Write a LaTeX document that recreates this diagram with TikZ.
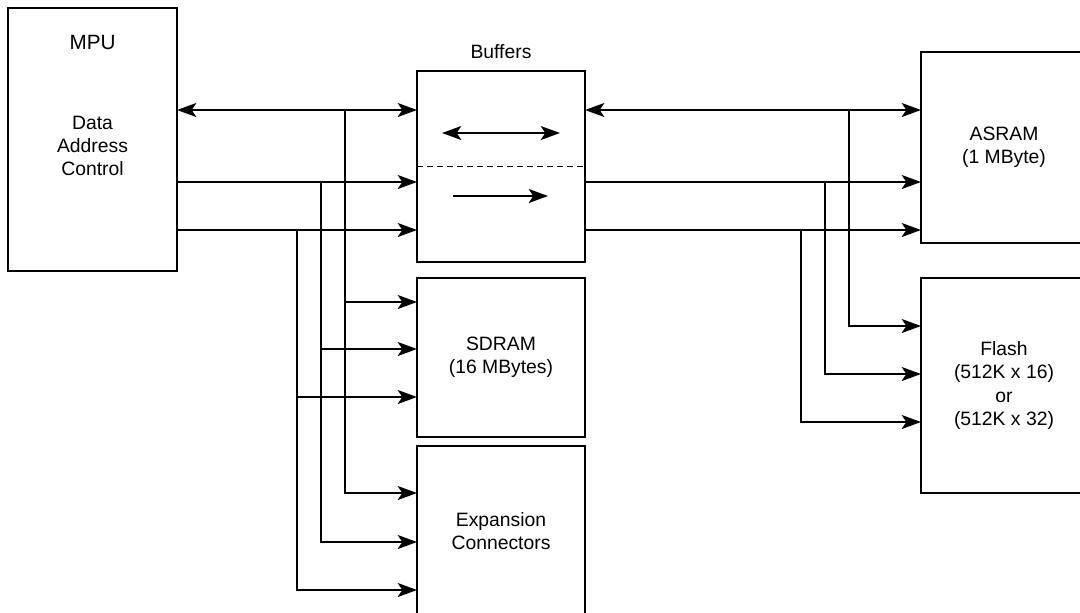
\documentclass[tikz,border=0pt]{standalone}
\usepackage{fontspec}
\setmainfont{Liberation Sans}
\usetikzlibrary{arrows.meta}

\tikzset{
  block/.style={draw,inner sep=0pt,outer sep=0pt,align=center},
  label/.style={inner sep=0pt,align=center},
}

\begin{document}
\begin{tikzpicture}[x=0.75pt,y=-0.75pt,line width=1.3pt,
    >={Stealth[length=14.5pt,width=10.5pt,inset=3.5pt]},
    font=\fontsize{14.5}{17.5}\selectfont]
  \useasboundingbox (0,0) rectangle (1080,612);
  % blocks
  \node[block,minimum width=126.75pt,minimum height=197.25pt] (mpu) at (92.5,139.5) {};
  \node[label,font=\fontsize{15.5}{18}\selectfont] (mpulbl) at (92.5,42) {MPU};
  \node[label] (mpusig) at (92.5,146) {Data\\Address\\Control};
  \node[block,minimum width=126pt,minimum height=143.25pt] (buf) at (501,166.5) {};
  \node[label] (buflbl) at (501,52) {Buffers};
  \node[block,minimum width=126pt,minimum height=119.25pt] (sdram) at (501,357.5) {SDRAM\\(16 MBytes)};
  \node[block,minimum width=126pt,minimum height=127.5pt] (exp) at (501,531) {Expansion\\Connectors};
  \node[block,minimum width=124.5pt,minimum height=143.25pt] (asram) at (1004,147.5) {ASRAM\\(1 MByte)};
  \node[block,minimum width=124.5pt,minimum height=161.25pt] (flash) at (1004,385.5) {Flash\\(512K x 16)\\or\\(512K x 32)};

  % inside the buffers
  \draw[dash pattern=on 4.5pt off 3pt] (buf.west) -- (buf.east);
  \coordinate (bidirL) at (442,133);
  \coordinate (bidirR) at (560,133);
  \coordinate (uniL) at (453,196);
  \coordinate (uniR) at (548,196);
  \draw[<->] (bidirL) -- (bidirR);
  \draw[->] (uniL) -- (uniR);

  % MPU to buffers
  \draw[<->] (mpu.east |- 0,110) -- (buf.west |- 0,110);
  \draw[->] (mpu.east |- 0,182) -- (buf.west |- 0,182);
  \draw[->] (mpu.east |- 0,230) -- (buf.west |- 0,230);

  % taps to SDRAM and expansion connectors
  \coordinate (tapD) at (345,110);
  \coordinate (tapA) at (321,182);
  \coordinate (tapC) at (297,230);
  \draw[->] (tapD) |- (exp.west |- 0,493);
  \draw[->] (tapA) |- (exp.west |- 0,542);
  \draw[->] (tapC) |- (exp.west |- 0,590);
  \draw[->] (tapD |- 0,302) -- (sdram.west |- 0,302);
  \draw[->] (tapA |- 0,349) -- (sdram.west |- 0,349);
  \draw[->] (tapC |- 0,397) -- (sdram.west |- 0,397);

  % buffers to ASRAM
  \draw[<->] (buf.east |- 0,110) -- (asram.west |- 0,110);
  \draw[->] (buf.east |- 0,182) -- (asram.west |- 0,182);
  \draw[->] (buf.east |- 0,230) -- (asram.west |- 0,230);

  % taps to flash
  \coordinate (tapFD) at (849,110);
  \coordinate (tapFA) at (825,182);
  \coordinate (tapFC) at (801,230);
  \draw[->] (tapFD) |- (flash.west |- 0,326);
  \draw[->] (tapFA) |- (flash.west |- 0,374);
  \draw[->] (tapFC) |- (flash.west |- 0,422);
\end{tikzpicture}
\end{document}
